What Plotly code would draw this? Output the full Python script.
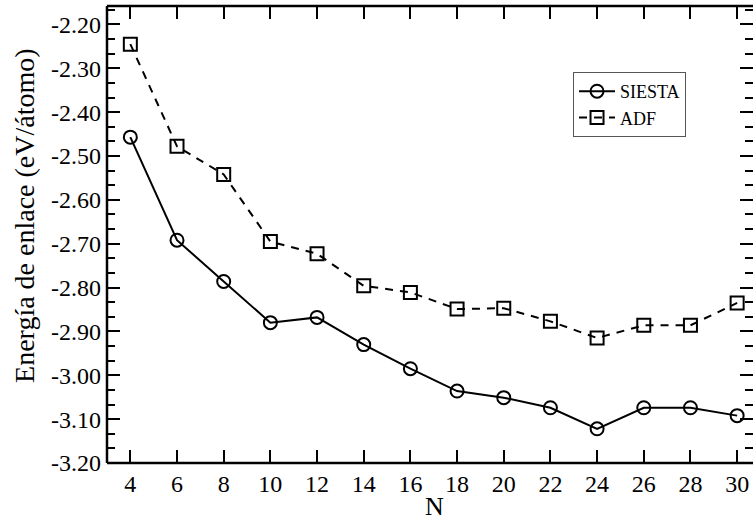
import plotly.graph_objects as go

N = [4, 6, 8, 10, 12, 14, 16, 18, 20, 22, 24, 26, 28, 30]
siesta = [-2.457, -2.692, -2.786, -2.880, -2.868, -2.930, -2.985, -3.036,
          -3.051, -3.074, -3.122, -3.074, -3.074, -3.092]
adf = [-2.245, -2.478, -2.542, -2.695, -2.723, -2.796, -2.811, -2.849,
       -2.847, -2.877, -2.915, -2.886, -2.886, -2.835]
y_ticks = [-3.2, -3.1, -3.0, -2.9, -2.8, -2.7, -2.6, -2.5, -2.4, -2.3, -2.2]
y_ticklabels = ["%.2f" % v for v in y_ticks]
x_title = "N"
y_title = "Energía de enlace (eV/átomo)"

FONT = "Liberation Serif"

fig = go.Figure()
fig.add_trace(go.Scatter(
    x=N, y=siesta, name="SIESTA", mode="lines+markers",
    line=dict(color="black", width=2),
    marker=dict(symbol="circle-open", size=13, color="black", line=dict(width=2)),
))
fig.add_trace(go.Scatter(
    x=N, y=adf, name="ADF", mode="lines+markers",
    line=dict(color="black", width=2, dash="8px,7px"),
    marker=dict(symbol="square-open", size=13, color="black", line=dict(width=2)),
))

fig.update_layout(
    width=753, height=523,
    margin=dict(l=107, r=0, t=6, b=60),
    paper_bgcolor="white", plot_bgcolor="white",
    font=dict(family=FONT, size=24, color="black"),
    showlegend=True,
    legend=dict(
        x=0.7214, y=0.8556, xanchor="left", yanchor="top",
        bordercolor="#555", borderwidth=1, bgcolor="white",
        font=dict(family=FONT, size=18, color="black"),
        itemwidth=36, tracegroupgap=0,
    ),
    xaxis=dict(
        range=[3, 30.68], tickvals=N, ticktext=[str(n) for n in N],
        ticks="inside", ticklen=13, tickwidth=2, tickcolor="black",
        mirror="ticks", showline=False, showgrid=False, zeroline=False,
        tickfont=dict(family=FONT, size=24), ticklabelstandoff=4,
    ),
    yaxis=dict(
        range=[-3.2, -2.158], tickvals=y_ticks, ticktext=y_ticklabels,
        ticks="inside", ticklen=13, tickwidth=2, tickcolor="black",
        mirror="ticks", showline=False, showgrid=False, zeroline=False,
        minor=dict(dtick=0.1 / 3, tick0=-3.2, ticks="inside", ticklen=8,
                   tickwidth=2, tickcolor="black", showgrid=False),
        tickfont=dict(family=FONT, size=24), ticklabelstandoff=5,
    ),
)

fig.add_annotation(text=x_title, xref="paper", yref="paper",
                   x=0.5077, y=-0.096, xanchor="center", yanchor="middle",
                   showarrow=False, font=dict(family=FONT, size=26, color="black"))
fig.add_annotation(text=y_title, xref="paper", yref="paper",
                   x=-0.127, y=0.5427, xanchor="center", yanchor="middle",
                   textangle=-90, showarrow=False,
                   font=dict(family=FONT, size=28, color="black"))

# frame: left, bottom, top spines (right spine lies beyond the image)
for x0, y0, x1, y1 in [(0, 0, 0, 1), (0, 0, 1, 0), (0, 1, 1, 1)]:
    fig.add_shape(type="line", xref="paper", yref="paper",
                  x0=x0, y0=y0, x1=x1, y1=y1,
                  line=dict(color="black", width=2.5), layer="above")

fig.write_html("out.html", config={"displayModeBar": False},
               post_script="document.body.style.margin='0px';")
